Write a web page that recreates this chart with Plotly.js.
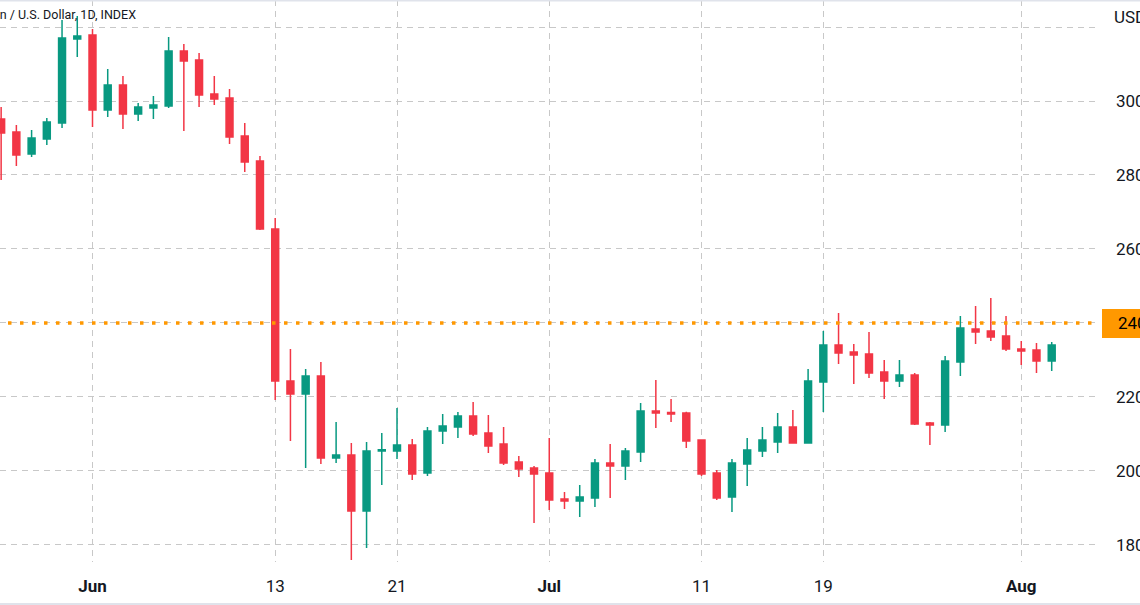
<!DOCTYPE html>
<html>
<head>
<meta charset="utf-8">
<script src="https://cdn.plot.ly/plotly-3.0.1.min.js"></script>
<style>
  html, body { margin: 0; padding: 0; background: #ffffff; overflow: hidden; }
  #chart { width: 1140px; height: 605px; }
</style>
</head>
<body>
<div id="chart"></div>
<script>
// Daily candles, Bitcoin / U.S. Dollar, 1D, INDEX
const dates = [
  "2022-05-26","2022-05-27","2022-05-28","2022-05-29","2022-05-30","2022-05-31",
  "2022-06-01","2022-06-02","2022-06-03","2022-06-04","2022-06-05","2022-06-06","2022-06-07",
  "2022-06-08","2022-06-09","2022-06-10","2022-06-11","2022-06-12","2022-06-13","2022-06-14",
  "2022-06-15","2022-06-16","2022-06-17","2022-06-18","2022-06-19","2022-06-20","2022-06-21",
  "2022-06-22","2022-06-23","2022-06-24","2022-06-25","2022-06-26","2022-06-27","2022-06-28",
  "2022-06-29","2022-06-30","2022-07-01","2022-07-02","2022-07-03","2022-07-04","2022-07-05",
  "2022-07-06","2022-07-07","2022-07-08","2022-07-09","2022-07-10","2022-07-11","2022-07-12",
  "2022-07-13","2022-07-14","2022-07-15","2022-07-16","2022-07-17","2022-07-18","2022-07-19",
  "2022-07-20","2022-07-21","2022-07-22","2022-07-23","2022-07-24","2022-07-25","2022-07-26",
  "2022-07-27","2022-07-28","2022-07-29","2022-07-30","2022-07-31","2022-08-01","2022-08-02",
  "2022-08-03"
];
const openP = [
  29513,29162,28567,28973,29405,31676,
  31784,29757,30432,29648,29811,29865,31351,
  31108,30189,30081,29054,28378,26540,22432,
  22081,22567,20351,20432,18919,20540,20540,
  20703,19945,21081,21189,21486,21027,20730,
  20243,20081,19945,19243,19189,19270,20216,
  20135,20513,21621,21580,21567,20837,19945,
  19297,20189,20540,20783,21189,20756,22405,
  23405,23216,23162,22675,22432,22594,21297,
  21243,22945,23837,23783,23648,23297,23270,
  22972
];
const highP = [
  29838,29351,29216,29540,32189,32300,
  31946,30865,30676,29946,30135,31730,31540,
  31297,30676,30324,29405,28513,26838,23297,
  22757,22946,21324,20757,20784,21027,21702,
  20864,21189,21540,21594,21864,21513,21189,
  20405,20135,20891,19432,19621,20324,20729,
  20621,21837,22459,21945,21600,20860,20027,
  20324,20891,21189,21567,21648,22757,23783,
  24270,23432,23756,22999,23000,22650,21324,
  23107,24189,24459,24675,24189,23513,23459,
  23486
];
const lowP = [
  27864,28243,28486,28810,29270,31189,
  29297,29567,29243,29459,29513,29811,29189,
  29838,29892,28838,28081,26513,21919,20810,
  20081,20189,20216,17594,17919,19622,20324,
  19756,19864,20729,20891,20946,20486,20162,
  19837,18594,18945,18972,18756,19027,19270,
  19756,20243,21162,21324,20621,19864,19216,
  18891,19594,20378,20486,20740,20740,21594,
  22892,22351,22513,21945,22270,21243,20702,
  21054,22567,23432,23513,23243,22864,22648,
  22702
];
const closeP = [
  29135,28540,29000,29432,31703,31757,
  29757,30432,29648,29838,29892,31351,31081,
  30162,30054,29027,28351,26540,22432,22081,
  22567,20351,20432,18919,20540,20570,20703,
  19918,21081,21216,21486,21000,20676,20216,
  20054,19918,19216,19189,19297,20216,20135,
  20540,21621,21567,21540,20810,19918,19270,
  20216,20567,20837,21189,20756,22432,23405,
  23189,23135,22648,22432,22594,21270,21243,
  22972,23864,23756,23621,23297,23243,22972,
  23405
];

// Axis ticks
const xTickVals = ["2022-06-01","2022-06-13","2022-06-21","2022-07-01","2022-07-11","2022-07-19","2022-08-01"];
const xTickText = ["<b>Jun</b>","13","21","<b>Jul</b>","11","19","<b>Aug</b>"];
const yTickVals = [18000,20000,22000,24000,26000,28000,30000,32000];
const yTickText = ["18000","20000","22000","","26000","28000","30000",""];

// Highlighted level
const levelValue = 24000;
const levelLabel = "24000";
const titleText = "Bitcoin / U.S. Dollar, 1D, INDEX";
const currencyText = "USD";

const GREEN = "#089981", RED = "#f23645", TXT = "#131722";
const PLOT_W = 1098, PLOT_H = 562;
const FONT = "Roboto, 'Open Sans', sans-serif";

const trace = {
  type: "candlestick",
  x: dates, open: openP, high: highP, low: lowP, close: closeP,
  increasing: { line: { color: GREEN, width: 1.5 }, fillcolor: GREEN },
  decreasing: { line: { color: RED, width: 1.5 }, fillcolor: RED },
  whiskerwidth: 0,
  hoverinfo: "skip",
  showlegend: false
};

const layout = {
  width: 1140, height: 605,
  margin: { l: 0, r: 1140 - PLOT_W, t: 0, b: 605 - PLOT_H },
  paper_bgcolor: "#ffffff", plot_bgcolor: "#ffffff",
  font: { family: FONT, color: TXT, size: 16 },
  boxgap: 0.35,
  showlegend: false,
  xaxis: {
    type: "date",
    range: ["2022-05-25 22:12", "2022-08-06 00:58"],
    rangeslider: { visible: false },
    tickmode: "array", tickvals: xTickVals, ticktext: xTickText,
    showgrid: true, gridcolor: "#c8c8c8", griddash: "6px,5px", gridwidth: 1,
    zeroline: false, showline: false, ticks: "",
    ticklabelstandoff: 12,
    tickfont: { family: FONT, size: 17, color: TXT },
    fixedrange: true
  },
  yaxis: {
    side: "right",
    range: [17539, 32730],
    tickmode: "array", tickvals: yTickVals, ticktext: yTickText,
    showgrid: true, gridcolor: "#c8c8c8", griddash: "6px,5px", gridwidth: 1,
    zeroline: false, showline: false, ticks: "",
    ticklabelstandoff: 17,
    tickfont: { family: FONT, size: 17, color: TXT },
    fixedrange: true
  },
  shapes: [
    { type: "line", xref: "paper", yref: "y", x0: 8 / PLOT_W, x1: 1, y0: levelValue, y1: levelValue,
      line: { color: "#ff9800", width: 3.5, dash: "3.5px,8.5px" }, layer: "above" },
    { type: "rect", xref: "paper", yref: "y", x0: 1102 / PLOT_W, x1: 1160 / PLOT_W, y0: 23595, y1: 24378,
      fillcolor: "#ff9800", line: { width: 0 }, layer: "above" },
    { type: "line", xref: "paper", yref: "paper", x0: 0, x1: 1160 / PLOT_W, y0: 1 - 0.5 / PLOT_H, y1: 1 - 0.5 / PLOT_H,
      line: { color: "#e0e3eb", width: 2 }, layer: "above" },
    { type: "line", xref: "paper", yref: "paper", x0: 0, x1: 1160 / PLOT_W, y0: -(604 - PLOT_H) / PLOT_H, y1: -(604 - PLOT_H) / PLOT_H,
      line: { color: "#e0e3eb", width: 2 }, layer: "above" }
  ],
  annotations: [
    { text: levelLabel, xref: "paper", yref: "y", x: 1116 / PLOT_W, y: levelValue,
      xanchor: "left", yanchor: "middle", showarrow: false,
      font: { family: FONT, size: 17, color: "#000000" } },
    { text: currencyText, xref: "paper", yref: "paper", x: 1112 / PLOT_W, y: 1 - 17 / PLOT_H,
      xanchor: "left", yanchor: "middle", showarrow: false,
      font: { family: FONT, size: 17, color: TXT } },
    { text: titleText, xref: "paper", yref: "paper", x: 138 / PLOT_W, y: 1 - 15 / PLOT_H,
      xanchor: "right", yanchor: "middle", showarrow: false,
      font: { family: FONT, size: 12.5, color: TXT } }
  ]
};

Plotly.newPlot("chart", [trace], layout, { displayModeBar: false, staticPlot: true });
</script>
</body>
</html>
